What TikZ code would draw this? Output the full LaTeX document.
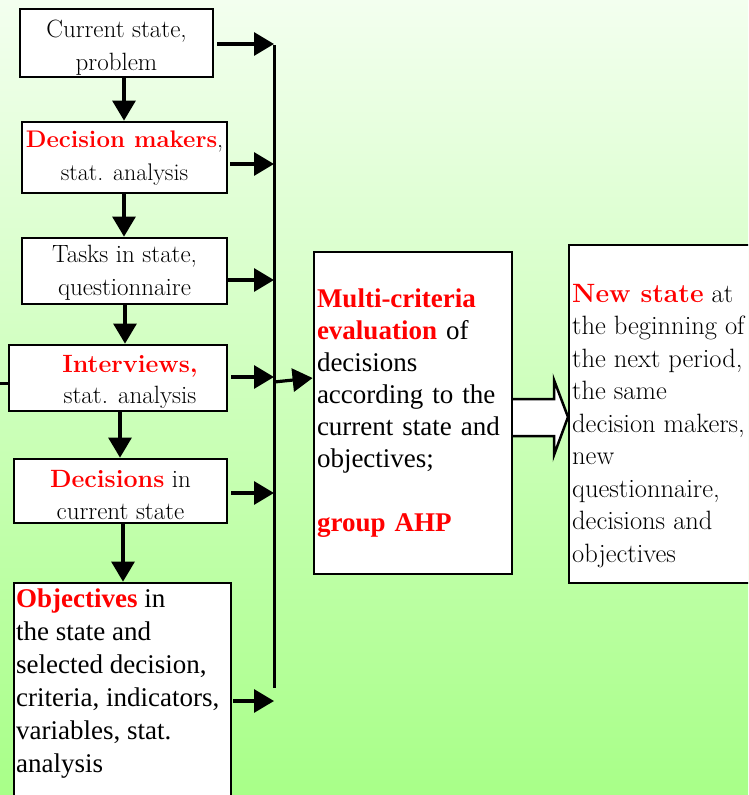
\documentclass[tikz,border=0pt]{standalone}
\usepackage{fontspec}
\newfontfamily\tms{Liberation Serif}
\usetikzlibrary{arrows.meta,calc}
\definecolor{rd}{RGB}{255,0,0}
\definecolor{bgtop}{RGB}{243,255,239}
\definecolor{bgbot}{RGB}{168,255,136}
\begin{document}
\begin{tikzpicture}[x=1pt,y=-1pt,
  box/.style={draw, line width=2.8pt, fill=white, inner sep=0pt},
  ltext/.style={inner sep=0pt, align=center, font=\fontsize{25}{33}\selectfont},
  link/.style={line width=3.2pt, -{Triangle[length=20pt,width=23pt]}},
  bus/.style={line width=3pt},
  hollow/.style={line width=2.5pt, line join=miter}]
\useasboundingbox (0,0) rectangle (748,795);
\clip (0,0) rectangle (748,795);
\shade[top color=bgtop, bottom color=bgbot] (0,0) rectangle (748,795);

% hollow arrow between evaluation and new state
\fill[white] (512,399) -- (554,399) -- (554,380) -- (568,417) -- (554,455) -- (554,436) -- (512,436) -- cycle;
\draw[hollow] (512,399) -- (554,399) -- (554,380) -- (568,417) -- (554,455) -- (554,436) -- (512,436);

% left column boxes
\node[box, minimum width=193pt, minimum height=68pt] (b1) at (116.5,43) {};
\node[box, minimum width=205pt, minimum height=71pt] (b2) at (124.5,157.5) {};
\node[box, minimum width=205pt, minimum height=66pt] (b3) at (124.5,271) {};
\node[box, minimum width=218pt, minimum height=66pt] (b4) at (118,378) {};
\node[box, minimum width=213pt, minimum height=64pt] (b5) at (120.5,491) {};
\node[box, minimum width=217pt, minimum height=227pt] (b6) at (122.5,696.5) {};

% left column texts
\node[ltext] (t1) at ([yshift=-5pt]b1.center) {Current state,\\problem};
\node[ltext, font=\fontsize{24}{33}\selectfont] (t2) at ([yshift=-1pt]b2.center) {\textcolor{rd}{\bfseries Decision makers},\\stat. analysis};
\node[ltext] (t3) at ([yshift=-2pt]b3.center) {Tasks in state,\\questionnaire};
\node[ltext, font=\fontsize{25}{31.5}\selectfont] (t4) at ([shift={(12pt,-4pt)}]b4.center) {\textcolor{rd}{\bfseries Interviews,}\\stat. analysis};
\node[ltext, font=\fontsize{25}{31.5}\selectfont] (t5) at ([yshift=-4pt]b5.center) {\textcolor{rd}{\bfseries Decisions} in\\current state};
\node[anchor=north west, inner sep=0pt, align=left, font=\tms\fontsize{27}{33}\selectfont] (ot) at (16,589)
  {\textcolor{rd}{\bfseries Objectives} in\\the state and\\selected decision,\\criteria, indicators,\\variables, stat.\\analysis};

% evaluation box
\node[box, minimum width=198pt, minimum height=322pt, text width=192pt, align=left,
      font=\tms\fontsize{27}{32}\selectfont] (multi) at (413,413)
  {\textcolor{rd}{\bfseries Multi-criteria}\\\textcolor{rd}{\bfseries evaluation} of\\decisions\\according to the\\current state and\\objectives;\\[32pt]\textcolor{rd}{\bfseries group AHP}};

% new state box
\node[box, minimum width=231pt, minimum height=338pt] (nb) at (684.5,414) {};
\node[anchor=north west, inner sep=0pt, align=left, font=\fontsize{26.5}{32.5}\selectfont] (nt) at (572,284)
  {\textcolor{rd}{\bfseries New state} at\\the beginning of\\the next period,\\the same\\decision makers,\\new\\questionnaire,\\decisions and\\objectives};

% vertical arrows
\coordinate (d1) at (124,0);
\coordinate (d3) at (125,0);
\coordinate (d4) at (120,0);
\coordinate (d5) at (123,0);
\draw[link] (d1 |- b1.south) -- (d1 |- b2.north);
\draw[link] (d1 |- b2.south) -- (d1 |- b3.north);
\draw[link] (d3 |- b3.south) -- (d3 |- b4.north);
\draw[link] (d4 |- b4.south) -- (d4 |- b5.north);
\draw[link] (d5 |- b5.south) -- (d5 |- b6.north);

% bus
\coordinate (busT) at (274,45);
\coordinate (busB) at (274,688);
\draw[bus] (busT) -- (busB);

\coordinate (a1) at (217,44);
\coordinate (a2) at (230,164);
\coordinate (a3) at (228,280);
\coordinate (a4) at (231,377);
\coordinate (a5) at (231,493);
\coordinate (a6) at (233,701);
\foreach \a in {a1,a2,a3,a4,a5,a6}{
  \draw[link] (\a) -- (\a -| busT);
}

% stub at left of interviews
\coordinate (st) at (0,383);
\draw[bus] (st) -- (st -| b4.west);

% bus to evaluation
\coordinate (m0) at (274,382);
\draw[link] (m0) -- ([yshift=35pt]multi.west);
\end{tikzpicture}
\end{document}
